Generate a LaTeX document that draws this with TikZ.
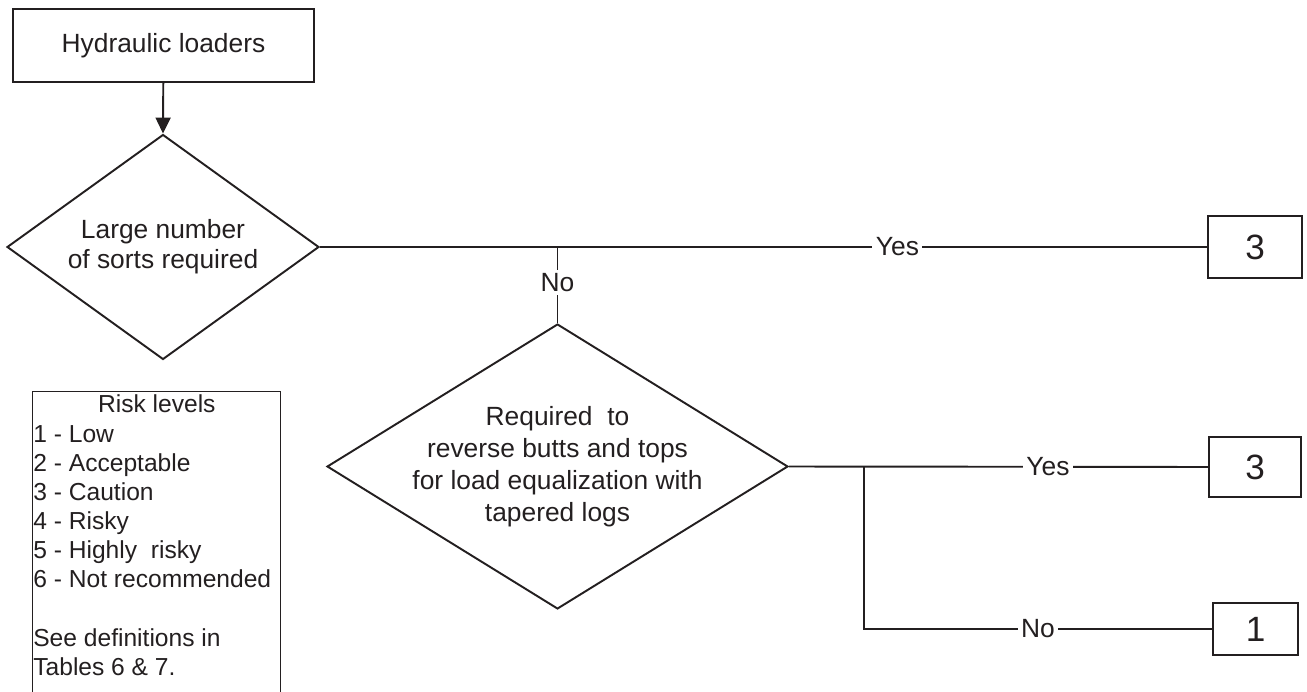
\documentclass[tikz,border=0pt]{standalone}
\usepackage{fontspec}
\setmainfont{Liberation Sans}
\usetikzlibrary{shapes.geometric,arrows.meta,positioning}
\definecolor{ink}{HTML}{231F20}

\tikzset{
  box/.style={rectangle,draw=ink,line width=1.1pt,inner sep=0pt},
  decision/.style={diamond,draw=ink,line width=1.1pt,inner sep=0pt},
  lbl/.style={fill=white,inner sep=2pt,text=ink},
}

\begin{document}
\begin{tikzpicture}[x=0.02cm,y=-0.02cm,line width=1.1pt,draw=ink,text=ink,
  font=\fontsize{15}{18}\selectfont,
  >={Triangle[length=0.32cm,width=0.3cm]}]
\useasboundingbox (0,0) rectangle (1307,692);

\node[box,minimum width=6.02cm,minimum height=1.46cm] (loader) at (163.5,45.5) {Hydraulic loaders};

\node[decision,minimum width=6.24cm,minimum height=4.5cm] (sorts) at (163,247) {};
\node[align=center,font=\fontsize{15}{17}\selectfont] (sortstxt) at (sorts) {Large number\\of sorts required};

\node[decision,minimum width=9.22cm,minimum height=5.7cm] (rev) at (557.5,466.5) {};
\node[align=center,font=\fontsize{15}{18.2}\selectfont] (revtxt) at (rev) {Required\ \ to\\reverse butts and tops\\for load equalization with\\tapered logs};

\node[box,minimum width=1.88cm,minimum height=1.24cm,font=\fontsize{20}{24}\selectfont] (r1) at (1255,247) {3};
\node[box,minimum width=1.84cm,minimum height=1.2cm,font=\fontsize{20}{24}\selectfont] (r2) at (1255,467) {3};
\node[box,minimum width=1.7cm,minimum height=1.04cm,font=\fontsize{20}{24}\selectfont] (r3) at (1255.5,629) {1};

% legend, runs off the bottom
\node[rectangle,draw=ink,line width=0.6pt,anchor=north west,inner xsep=0.01cm,inner ysep=0.07cm] (legend) at (32.3,391)
{\begin{minipage}[t][7cm][t]{4.94cm}
\fontsize{14}{16.6}\selectfont\raggedright
\makebox[4.94cm]{Risk levels}\\
1 - Low\\
2 - Acceptable\\
3 - Caution\\
4 - Risky\\
5 - Highly\ \ risky\\
6 - Not recommended\\[16.6pt]
See definitions in\\
Tables 6 \& 7.
\end{minipage}};

\coordinate (split) at (557.5,247);
\coordinate (fork) at (864,467);

\draw[->] (loader) -- (sorts.north);

\draw (sorts.east) -- node[lbl,pos=0.651] {Yes} (r1.west);
\draw (split) -- node[lbl,pos=0.47] {No} (rev.north);

\draw (rev.east) -- node[lbl,pos=0.618] {Yes} (r2.west);
\draw (fork) |- node[lbl,pos=0.75] {No} (r3.west);
\end{tikzpicture}
\end{document}
